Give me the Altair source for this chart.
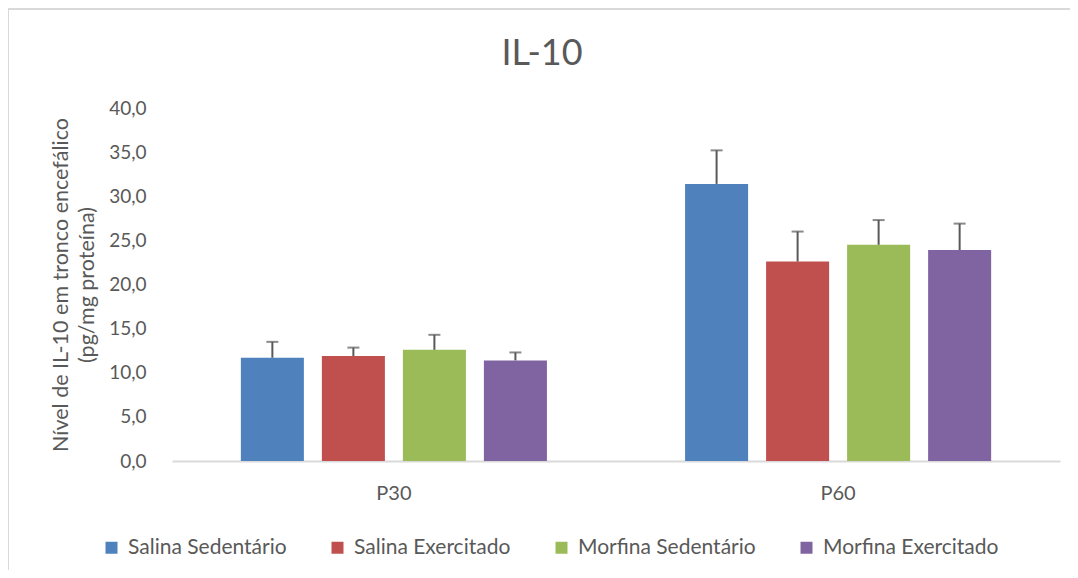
import altair as alt
import pandas as pd

periods = ["P30", "P60"]
groups = ["Salina Sedentário", "Salina Exercitado", "Morfina Sedentário", "Morfina Exercitado"]
colors = ["#4F81BD", "#C0504D", "#9BBB59", "#8064A2"]
p30_values = [11.7, 11.9, 12.6, 11.4]
p30_errors = [1.8, 0.95, 1.7, 0.9]
p60_values = [31.4, 22.6, 24.5, 23.9]
p60_errors = [3.8, 3.4, 2.8, 3.0]
y_ticks = [0, 5, 10, 15, 20, 25, 30, 35, 40]

rows = []
for g, v, e in zip(groups, p30_values, p30_errors):
    rows.append({"periodo": "P30", "grupo": g, "valor": v, "topo": v + e})
for g, v, e in zip(groups, p60_values, p60_errors):
    rows.append({"periodo": "P60", "grupo": g, "valor": v, "topo": v + e})
df = pd.DataFrame(rows)

FONT = "Lato"
GREY = "#595959"

x_enc = alt.X("periodo:N", sort=periods, title=None,
              scale=alt.Scale(paddingInner=0.311, paddingOuter=0.155),
              axis=alt.Axis(labelAngle=0, ticks=False, domainColor="#D9D9D9", domainWidth=2,
                            labelFontSize=20, labelColor=GREY, labelFont=FONT,
                            labelPadding=38, labelBaseline="alphabetic"))
xo_enc = alt.XOffset("grupo:N", sort=groups, scale=alt.Scale(paddingInner=0.222, paddingOuter=0))

base = alt.Chart(df)

bars = base.mark_bar().encode(
    x=x_enc,
    xOffset=xo_enc,
    y=alt.Y("valor:Q", scale=alt.Scale(domain=[0, 40]),
            title=["Nível de IL-10 em tronco encefálico", "(pg/mg proteína)"],
            axis=alt.Axis(values=y_ticks, grid=False, domain=False, ticks=False,
                          labelExpr="replace(format(datum.value, '.1f'), '.', ',')",
                          labelFontSize=19, labelColor=GREY, labelFont=FONT, labelPadding=26,
                          titleFontSize=21.5, titleColor=GREY, titleFont=FONT, titleFontWeight="normal",
                          titleLineHeight=26, titlePadding=10)),
    color=alt.Color("grupo:N", sort=groups, scale=alt.Scale(domain=groups, range=colors),
                    legend=alt.Legend(title=None, orient="none", legendX=-71, legendY=429,
                                      direction="horizontal", columns=4, symbolType="square",
                                      symbolSize=144, symbolStrokeWidth=0, labelFontSize=21,
                                      labelColor=GREY, labelFont=FONT, labelOffset=6,
                                      labelLimit=400, columnPadding=40)),
)

err = base.mark_rule(color=GREY, strokeWidth=2).encode(
    x=x_enc, xOffset=xo_enc, y="valor:Q", y2="topo:Q")
caps = base.mark_tick(color=GREY, thickness=2, size=12).encode(
    x=x_enc, xOffset=xo_enc, y="topo:Q")

title = alt.Chart(pd.DataFrame({"t": ["IL-10"]})).mark_text(
    font=FONT, fontSize=36, color=GREY, baseline="alphabetic", align="center"
).encode(text="t:N", x=alt.value(370), y=alt.value(-43))

border = alt.Chart(pd.DataFrame({"b": [1]})).mark_rect(
    fill=None, stroke="#D9D9D9", strokeWidth=2
).encode(x=alt.value(-164), x2=alt.value(940), y=alt.value(-99), y2=alt.value(500))

chart = alt.layer(border, bars, err, caps, title).properties(
    width=888, height=353,
    background="white",
    autosize=alt.AutoSizeParams(type="none"),
    padding={"left": 164, "top": 100, "right": 10, "bottom": 109},
).configure_view(stroke=None)

chart.save("out.html", embed_options={"renderer": "svg", "actions": False})
